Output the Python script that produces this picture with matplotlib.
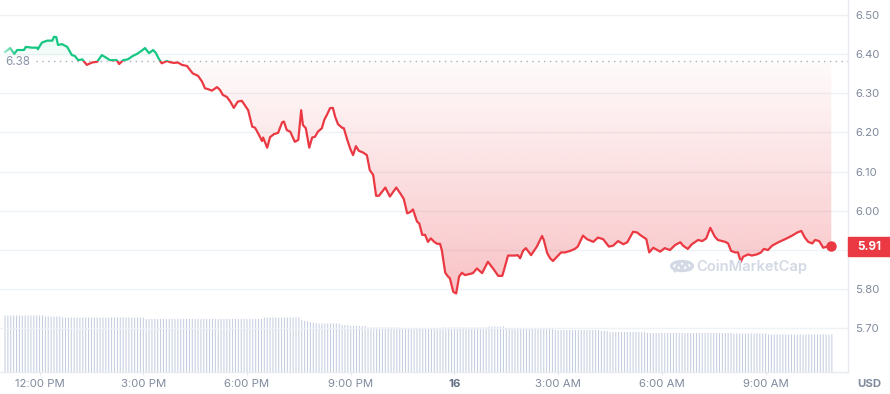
import numpy as np
import matplotlib
matplotlib.use("Agg")
import matplotlib.pyplot as plt
from matplotlib.patches import Rectangle, Circle
from matplotlib.lines import Line2D
from matplotlib.colors import to_rgb

plt.rcParams['font.family'] = ['Inter', 'DejaVu Sans']

# ---------------- data ----------------
# minutes after 11:00 AM (day 15) and price in USD
minutes = [
    0, 9, 16, 21, 33, 36, 47, 56, 57, 64,
    73, 82, 85, 89, 92, 99, 108, 116, 121, 127,
    134, 142, 151, 160, 168, 177, 182, 194, 198, 205,
    213, 222, 229, 236, 243, 250, 257, 262, 266, 272,
    281, 286, 293, 300, 307, 316, 321, 326, 335, 342,
    347, 352, 359, 368, 373, 378, 385, 391, 397, 404,
    411, 418, 422, 429, 434, 441, 446, 448, 455, 460,
    467, 474, 481, 484, 489, 495, 503, 509, 514, 517,
    522, 528, 533, 538, 543, 550, 554, 559, 564, 569,
    573, 578, 585, 588, 594, 599, 604, 609, 614, 621,
    628, 633, 639, 644, 649, 660, 668, 679, 686, 692,
    698, 703, 708, 715, 719, 724, 729, 734, 739, 745,
    750, 755, 758, 764, 769, 772, 778, 783, 788, 793,
    798, 807, 812, 819, 828, 838, 847, 856, 863, 866,
    873, 885, 890, 894, 899, 904, 913, 923, 932, 935,
    941, 946, 951, 958, 965, 972, 981, 989, 994, 1003,
    1010, 1021, 1029, 1038, 1048, 1055, 1064, 1073, 1080, 1090,
    1097, 1102, 1113, 1118, 1125, 1132, 1137, 1145, 1154, 1163,
    1172, 1177, 1185, 1192, 1203, 1210, 1217, 1224, 1232, 1237,
    1250, 1255, 1260, 1267, 1272, 1277, 1281, 1290, 1296, 1305,
    1312, 1317, 1324, 1331, 1342, 1354, 1366, 1375, 1382, 1388,
    1394, 1401, 1406, 1413, 1420, 1427, 1434,
]
prices = [
    6.406, 6.416, 6.401, 6.411, 6.411, 6.419, 6.417, 6.417, 6.413, 6.430,
    6.435, 6.435, 6.445, 6.444, 6.424, 6.426, 6.419, 6.398, 6.396, 6.385,
    6.387, 6.373, 6.379, 6.381, 6.398, 6.390, 6.385, 6.385, 6.375, 6.385,
    6.387, 6.396, 6.401, 6.408, 6.416, 6.403, 6.411, 6.403, 6.391, 6.377,
    6.383, 6.380, 6.378, 6.379, 6.373, 6.370, 6.360, 6.351, 6.345, 6.330,
    6.313, 6.311, 6.307, 6.316, 6.309, 6.296, 6.291, 6.279, 6.263, 6.279,
    6.281, 6.266, 6.257, 6.215, 6.212, 6.193, 6.178, 6.187, 6.161, 6.188,
    6.196, 6.199, 6.226, 6.228, 6.206, 6.202, 6.176, 6.181, 6.257, 6.219,
    6.211, 6.161, 6.187, 6.189, 6.202, 6.211, 6.232, 6.246, 6.262, 6.263,
    6.240, 6.221, 6.212, 6.211, 6.181, 6.159, 6.142, 6.165, 6.153, 6.149,
    6.142, 6.104, 6.091, 6.038, 6.038, 6.059, 6.036, 6.059, 6.044, 6.030,
    5.993, 5.996, 6.003, 5.972, 5.967, 5.938, 5.938, 5.920, 5.929, 5.920,
    5.915, 5.915, 5.899, 5.841, 5.831, 5.827, 5.792, 5.788, 5.831, 5.841,
    5.835, 5.838, 5.840, 5.852, 5.840, 5.869, 5.852, 5.833, 5.833, 5.848,
    5.885, 5.885, 5.886, 5.878, 5.897, 5.904, 5.886, 5.908, 5.935, 5.925,
    5.891, 5.878, 5.871, 5.882, 5.893, 5.893, 5.897, 5.902, 5.908, 5.936,
    5.927, 5.920, 5.931, 5.927, 5.908, 5.910, 5.922, 5.914, 5.919, 5.946,
    5.944, 5.938, 5.927, 5.893, 5.905, 5.899, 5.895, 5.904, 5.899, 5.912,
    5.919, 5.910, 5.902, 5.914, 5.925, 5.922, 5.929, 5.956, 5.933, 5.925,
    5.920, 5.916, 5.897, 5.893, 5.893, 5.869, 5.882, 5.888, 5.885, 5.888,
    5.893, 5.902, 5.899, 5.910, 5.919, 5.927, 5.936, 5.944, 5.948, 5.931,
    5.920, 5.916, 5.925, 5.922, 5.905, 5.908, 5.909,
]
open_price = 6.384
open_label = "6.38"
last_label = "5.91"

# volume bars, one per 5 minutes (relative units)
volume = [
    113, 113, 113, 113, 113, 113, 113, 113, 113, 113, 113, 113,
    113, 113, 111, 111, 111, 111, 111, 111, 109, 109, 109, 109,
    109, 109, 109, 109, 109, 109, 109, 109, 109, 109, 109, 109,
    109, 109, 109, 109, 109, 109, 109, 109, 109, 109, 109, 109,
    109, 106, 106, 106, 106, 106, 106, 106, 106, 106, 106, 106,
    106, 106, 106, 106, 106, 106, 106, 106, 106, 106, 106, 106,
    106, 106, 106, 106, 106, 106, 106, 106, 106, 106, 106, 106,
    106, 106, 106, 106, 106, 106, 109, 109, 109, 109, 109, 109,
    109, 109, 109, 109, 109, 109, 109, 104, 102, 101, 100, 99,
    98, 97, 97, 97, 97, 97, 97, 97, 97, 94, 94, 94,
    92, 92, 92, 92, 92, 92, 89, 89, 89, 89, 89, 89,
    89, 89, 89, 89, 89, 89, 87, 87, 87, 87, 87, 87,
    87, 87, 87, 87, 87, 87, 87, 87, 89, 89, 89, 89,
    89, 89, 89, 89, 89, 89, 89, 89, 89, 89, 89, 89,
    91, 91, 91, 91, 91, 91, 88, 88, 88, 88, 88, 88,
    88, 88, 88, 86, 86, 86, 86, 86, 86, 86, 86, 84,
    84, 84, 84, 84, 84, 84, 84, 84, 84, 84, 84, 84,
    84, 84, 84, 82, 82, 82, 80, 80, 80, 80, 80, 80,
    80, 80, 80, 80, 80, 80, 80, 78, 78, 78, 78, 78,
    78, 78, 78, 78, 78, 78, 78, 78, 78, 78, 78, 78,
    78, 78, 78, 78, 78, 78, 78, 78, 78, 78, 78, 78,
    78, 77, 77, 77, 77, 77, 77, 77, 77, 77, 77, 77,
    77, 75, 75, 75, 75, 75, 75, 75, 75, 75, 75, 75,
    75, 75, 75, 75, 75, 75, 75, 75, 75, 75, 75, 75,
]
volume_step_minutes = 5

price_ticks = [5.70, 5.80, 5.90, 6.00, 6.10, 6.20, 6.30, 6.40, 6.50]
price_tick_labels = ["5.70", "5.80", "", "6.00", "6.10", "6.20", "6.30", "6.40", "6.50"]
time_ticks = [60, 240, 420, 600, 780, 960, 1140, 1320]
time_labels = ["12:00 PM", "3:00 PM", "6:00 PM", "9:00 PM", "16",
               "3:00 AM", "6:00 AM", "9:00 AM"]

# ---------------- style ----------------
RED = "#ea3943"
GREEN = "#16c784"
GRID = "#eff2f5"
LABEL = "#808a9d"
W, H = 890, 394

def fx(px):
    return px / W

def fy(py):
    return 1 - py / H

fig = plt.figure(figsize=(W / 100, H / 100), dpi=100)
fig.patch.set_facecolor("white")
pos = [0, fy(372), fx(848), 372 / H]

axv = fig.add_axes(pos)
ax = fig.add_axes(pos, sharex=axv)
ax.patch.set_alpha(0)

vol_t = np.arange(len(volume)) * volume_step_minutes
bars = axv.bar(vol_t, volume, width=1.75, color="#c3cce0", linewidth=0, align="center")
for bpatch in bars:
    bpatch.set_snap(False)
axv.set_ylim(0, 744)
axv.axis("off")

t = np.array(minutes, dtype=float)
p = np.array(prices, dtype=float)

xmin, xmax = -8.7, 1463.0
ymin, ymax = 5.587, 6.539

# gradient fills clipped to the area between line and the open price
fill = ax.fill_between(t, p, open_price, facecolor="none", edgecolor="none")
clip_path = fill.get_paths()[0]

r, g, b = to_rgb(RED)
n = 256
low = 5.78
grad = np.zeros((n, 1, 4))
grad[..., 0], grad[..., 1], grad[..., 2] = r, g, b
grad[:, 0, 3] = np.linspace(0.31, 0.02, n)
im_r = ax.imshow(grad, extent=[t[0], t[-1], low, open_price], origin="lower",
                 aspect="auto", interpolation="bilinear", zorder=1)
im_r.set_clip_path(clip_path, ax.transData)

r, g, b = to_rgb(GREEN)
gradg = np.zeros((n, 1, 4))
gradg[..., 0], gradg[..., 1], gradg[..., 2] = r, g, b
gradg[:, 0, 3] = np.linspace(0.0, 0.13, n)
im_g = ax.imshow(gradg, extent=[t[0], t[-1], open_price, 6.45], origin="lower",
                 aspect="auto", interpolation="bilinear", zorder=1)
im_g.set_clip_path(clip_path, ax.transData)

# line coloured by side of the open price
below = Rectangle((xmin, ymin), xmax - xmin, open_price - ymin, transform=ax.transData)
above = Rectangle((xmin, open_price), xmax - xmin, ymax - open_price, transform=ax.transData)
lr, = ax.plot(t, p, color=RED, lw=1.6, zorder=3, solid_joinstyle="round")
lr.set_clip_path(below)
lg, = ax.plot(t, p, color=GREEN, lw=1.6, zorder=3, solid_joinstyle="round")
lg.set_clip_path(above)

# open price dotted line
ax.axhline(open_price, xmin=36 / 848, xmax=1, color="#a6afc2", lw=1.0,
           dashes=(1, 3.2), zorder=2)

# last point dot
ax.plot(t[-1], p[-1], "o", color=RED, ms=6.5, zorder=4, mec=RED)

ax.set_xlim(xmin, xmax)
ax.set_ylim(ymin, ymax)

# axes styling
ax.yaxis.tick_right()
ax.set_yticks(price_ticks)
ax.set_yticklabels(price_tick_labels)
ax.yaxis.grid(True, color=GRID, lw=1)
ax.set_axisbelow(True)
ax.tick_params(axis="y", length=0, pad=5, labelsize=8.2, labelcolor=LABEL)
ax.set_xticks(time_ticks)
ax.set_xticklabels(time_labels)
ax.tick_params(axis="x", length=2.5, width=0.8, color="#e3e7ee", pad=2.5,
               labelsize=8.2, labelcolor=LABEL)
xl = ax.get_xticklabels()[4]
xl.set_fontweight("bold")
xl.set_color("#616e85")
for s in ["top", "left"]:
    ax.spines[s].set_visible(False)
for s in ["right", "bottom"]:
    ax.spines[s].set_color("#e8ebf0")
    ax.spines[s].set_linewidth(1)

# fade at the left edge
fade = np.zeros((1, 64, 4))
fade[..., :3] = 1.0
fade[0, :, 3] = np.linspace(0.8, 0.0, 64)
fax = fig.add_axes([0, fy(70), fx(17), 32 / H])
fax.imshow(fade, aspect="auto", extent=[0, 1, 0, 1])
fax.axis("off")

# open price label
fig.text(fx(5), fy(62), open_label, color="#8b93a7", fontsize=8.4,
         ha="left", va="center")

# last price badge
fig.patches.append(Rectangle((fx(848), fy(255.5)), fx(42), 18.5 / H,
                             transform=fig.transFigure, color=RED, zorder=5))
fig.text(fx(857), fy(246.5), last_label, color="white", fontsize=8.4,
         fontweight="bold", ha="left", va="center", zorder=6)

# currency label
fig.text(fx(857), fy(384), "USD", color=LABEL, fontsize=8.2, fontweight="bold",
         ha="left", va="center")

# watermark
wm = "#d3d9e4"
fig.patches.append(Circle((fx(682), fy(266)), 10.5 / W, transform=fig.transFigure,
                          fill=False, ec=wm, lw=2.2, zorder=2))
xs = [675, 678.5, 682, 685.5, 689, 691]
ys = [271, 262, 269, 262, 270, 268]
fig.lines.append(Line2D([fx(v) for v in xs], [fy(v) for v in ys],
                        transform=fig.transFigure, color=wm, lw=2.0,
                        solid_joinstyle="round", zorder=2))
fig.text(fx(696), fy(267), "CoinMarketCap", color=wm, fontsize=10.6,
         fontweight="semibold", ha="left", va="center", zorder=2)

fig.savefig("out.png", dpi=100, facecolor="white")
